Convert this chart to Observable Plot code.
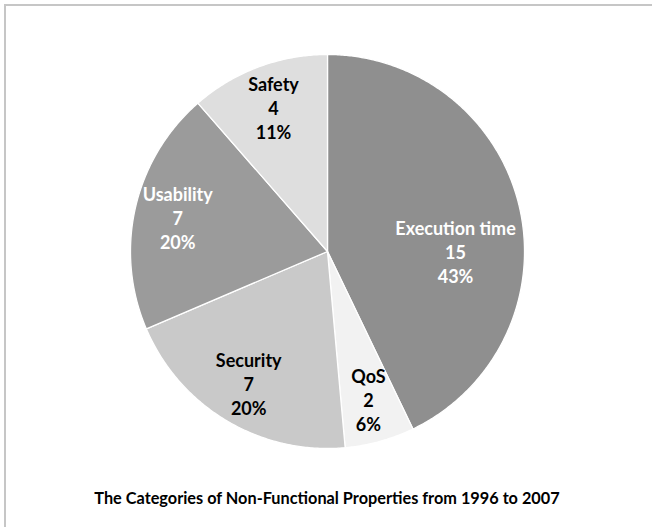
<!DOCTYPE html>
<html>
<head>
<meta charset="utf-8">
<script src="https://cdn.jsdelivr.net/npm/d3@7"></script>
<script src="https://cdn.jsdelivr.net/npm/@observablehq/plot@0.6"></script>
<style>
  html, body { margin: 0; padding: 0; background: #fff; }
  #wrap { position: relative; width: 652px; height: 527px; overflow: hidden; background: #fff; }
  #frame { position: absolute; left: 4px; top: 4px; width: 720px; height: 620px;
           border-top: 2px solid #c6c6c6; border-left: 2px solid #c6c6c6; }
  #chart { position: absolute; left: 0; top: 0; }
  #caption { position: absolute; left: 0; width: 654px; top: 488px; text-align: center;
             font-family: Lato, "Open Sans", sans-serif; font-weight: bold; font-size: 16.3px; color: #000; }
</style>
</head>
<body>
<div id="wrap">
  <div id="frame"></div>
  <div id="chart"></div>
  <div id="caption">The Categories of Non-Functional Properties from 1996 to 2007</div>
</div>
<script>
const categories = ["Execution time", "QoS", "Security", "Usability", "Safety"];
const counts = [15, 2, 7, 7, 4];
const sliceColors = ["#8f8f8f", "#f2f2f2", "#c9c9c9", "#9b9b9b", "#dedede"];
const labelColors = ["#ffffff", "#000000", "#000000", "#ffffff", "#000000"];

const W = 652, H = 480, CX = 327, CY = 251, R = 197;
const total = d3.sum(counts);
const arcs = d3.pie().sort(null).value(d => d)(counts);
const maxIdx = counts.indexOf(d3.max(counts));

// polygon points for each slice (angles: 0 at top, clockwise)
const pts = [];
arcs.forEach((a, i) => {
  pts.push({cat: categories[i], color: sliceColors[i], x: 0, y: 0});
  const n = Math.max(4, Math.ceil((a.endAngle - a.startAngle) / (Math.PI / 360)));
  for (let k = 0; k <= n; k++) {
    const t = a.startAngle + (a.endAngle - a.startAngle) * k / n;
    pts.push({cat: categories[i], color: sliceColors[i], x: Math.sin(t), y: Math.cos(t)});
  }
  pts.push({cat: categories[i], color: sliceColors[i], x: 0, y: 0});
});

const labels = arcs.map((a, i) => {
  const mid = (a.startAngle + a.endAngle) / 2;
  const ang = i === maxIdx ? Math.PI / 2 : mid;
  const rr = i === maxIdx ? 0.65 : 0.78;
  return {
    text: `${categories[i]}\n${counts[i]}\n${Math.round(counts[i] / total * 100)}%`,
    x: rr * Math.sin(ang), y: rr * Math.cos(ang), color: labelColors[i]
  };
});

const chart = Plot.plot({
  width: W, height: H,
  margin: 0,
  x: {domain: [-CX / R, (W - CX) / R], axis: null},
  y: {domain: [-(H - CY) / R, CY / R], axis: null},
  color: {type: "identity"},
  style: {background: "transparent"},
  marks: [
    Plot.line(pts, {x: "x", y: "y", z: "cat", fill: "color", stroke: "#ffffff", strokeWidth: 1.3, strokeLinejoin: "round"}),
    Plot.text(labels, {x: "x", y: "y", text: "text", fill: "color", fontSize: 18, fontWeight: "bold",
      fontFamily: "Lato, 'Open Sans', sans-serif", lineHeight: 1.33, lineAnchor: "middle", textAnchor: "middle"})
  ]
});
document.getElementById("chart").appendChild(chart);
</script>
</body>
</html>
